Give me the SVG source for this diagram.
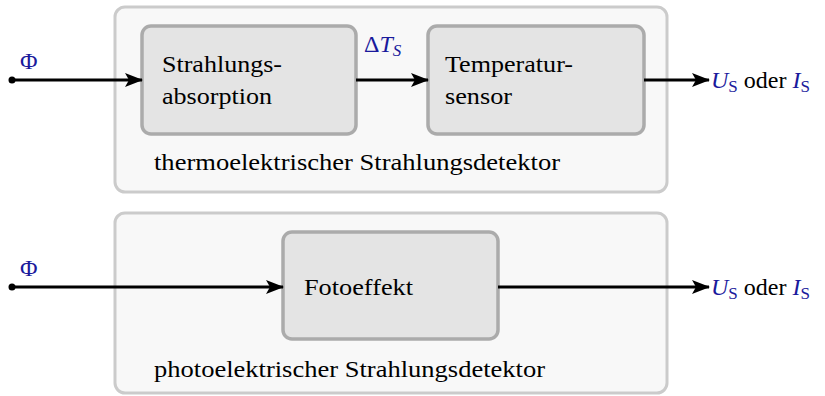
<svg xmlns="http://www.w3.org/2000/svg" width="825" height="396" viewBox="0 0 825 396">
<defs>
<marker id="ah" markerWidth="18" markerHeight="14" refX="17" refY="7" orient="auto" markerUnits="userSpaceOnUse">
<path d="M0,0 L18,7 L0,14 L4,7 Z" fill="#000"/>
</marker>
</defs>
<g id="thermo">
<rect x="115" y="7" width="552" height="185" rx="10" fill="#f8f8f8" stroke="#cbcbcb" stroke-width="3"/>
<text x="154" y="170" font-family="Liberation Serif, Times New Roman, serif" font-size="24" textLength="406" lengthAdjust="spacingAndGlyphs">thermoelektrischer Strahlungsdetektor</text>
</g>
<g id="absorption">
<rect x="142" y="26" width="214" height="108" rx="9" fill="#e4e4e4" stroke="#ababab" stroke-width="3.5"/>
<text x="162" y="72" font-family="Liberation Serif, Times New Roman, serif" font-size="24" textLength="120" lengthAdjust="spacingAndGlyphs">Strahlungs-</text>
<text x="162" y="104" font-family="Liberation Serif, Times New Roman, serif" font-size="24" textLength="110" lengthAdjust="spacingAndGlyphs">absorption</text>
</g>
<g id="sensor">
<rect x="428" y="26" width="216" height="108" rx="9" fill="#e4e4e4" stroke="#ababab" stroke-width="3.5"/>
<text x="445" y="72" font-family="Liberation Serif, Times New Roman, serif" font-size="24" textLength="128" lengthAdjust="spacingAndGlyphs">Temperatur-</text>
<text x="445" y="104" font-family="Liberation Serif, Times New Roman, serif" font-size="24" textLength="67" lengthAdjust="spacingAndGlyphs">sensor</text>
</g>
<g id="photo">
<rect x="115" y="213" width="552" height="180" rx="10" fill="#f8f8f8" stroke="#cbcbcb" stroke-width="3"/>
<text x="154" y="377" font-family="Liberation Serif, Times New Roman, serif" font-size="24" textLength="391" lengthAdjust="spacingAndGlyphs">photoelektrischer Strahlungsdetektor</text>
</g>
<g id="fotoeffekt">
<rect x="283" y="232" width="215" height="107" rx="9" fill="#e4e4e4" stroke="#ababab" stroke-width="3.5"/>
<text x="304" y="295" font-family="Liberation Serif, Times New Roman, serif" font-size="24" textLength="109" lengthAdjust="spacingAndGlyphs">Fotoeffekt</text>
</g>
<g id="connectors" stroke="#000" stroke-width="3" fill="none">
<circle cx="12" cy="80" r="3.5" fill="#000" stroke="none"/>
<path d="M12,80 H142" marker-end="url(#ah)"/>
<path d="M356,80 H428" marker-end="url(#ah)"/>
<path d="M644,80 H709" marker-end="url(#ah)"/>
<circle cx="12" cy="287" r="3.5" fill="#000" stroke="none"/>
<path d="M12,287 H283" marker-end="url(#ah)"/>
<path d="M498,287 H709" marker-end="url(#ah)"/>
</g>
<g id="labels">
<text x="20" y="69" font-family="Liberation Serif, Times New Roman, serif" font-size="24" fill="#1a1a9c">Φ</text>
<text x="364" y="52" font-family="Liberation Serif, Times New Roman, serif" font-size="24" fill="#1a1a9c">Δ<tspan font-style="italic">T</tspan><tspan font-style="italic" font-size="17" dy="4">S</tspan></text>
<text x="711" y="88" font-family="Liberation Serif, Times New Roman, serif" font-size="24"><tspan fill="#1a1a9c" font-style="italic">U</tspan><tspan fill="#1a1a9c" font-size="17" dy="4">S</tspan><tspan dy="-4"> oder </tspan><tspan fill="#1a1a9c" font-style="italic">I</tspan><tspan fill="#1a1a9c" font-size="17" dy="4">S</tspan></text>
<text x="20" y="276" font-family="Liberation Serif, Times New Roman, serif" font-size="24" fill="#1a1a9c">Φ</text>
<text x="711" y="295" font-family="Liberation Serif, Times New Roman, serif" font-size="24"><tspan fill="#1a1a9c" font-style="italic">U</tspan><tspan fill="#1a1a9c" font-size="17" dy="4">S</tspan><tspan dy="-4"> oder </tspan><tspan fill="#1a1a9c" font-style="italic">I</tspan><tspan fill="#1a1a9c" font-size="17" dy="4">S</tspan></text>
</g>
</svg>
